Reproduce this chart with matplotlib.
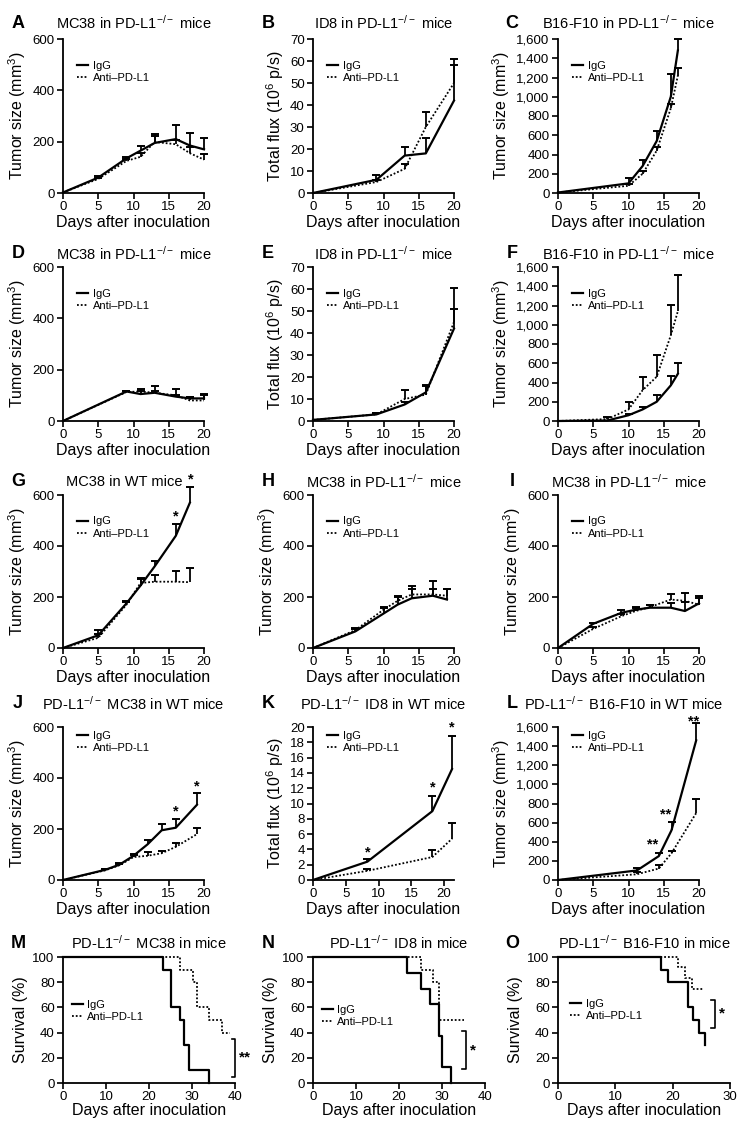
"""
plot.py
tumor growth / survival panels A-O (IgG vs Anti-PD-L1)
"""

import numpy as np
import matplotlib
matplotlib.use('Agg')
import matplotlib.pyplot as plt
from matplotlib.lines import Line2D

plt.rcParams['font.family'] = ['Liberation Sans', 'DejaVu Sans']
plt.rcParams['mathtext.default'] = 'regular'

NAN = np.nan

## ---- data ----
# A  MC38 in PD-L1-/- mice
A_DAYS      = [0, 5, 9, 11, 13, 16, 18, 20]
A_IGG       = [2, 60, 135, 165, 195, 210, 185, 170]
A_IGG_TOP   = [NAN, 68, 140, 185, 230, 266, 234, 214]
A_ANTI      = [2, 55, 125, 141, 199, 190, 155, 130]
A_ANTI_TOP  = [NAN, 60, 132, 156, 221, 205, 180, 153]
# B  ID8 in PD-L1-/- mice
B_DAYS      = [0, 9, 13, 16, 20]
B_IGG       = [0, 6, 17, 18, 42]
B_IGG_TOP   = [NAN, 8, 21, 25, 58]
B_ANTI      = [0, 5, 11, 30, 50]
B_ANTI_TOP  = [NAN, 6, 13, 37, 61]
# C  B16-F10 in PD-L1-/- mice
C_DAYS      = [0, 10, 12, 14, 16, 17]
C_IGG       = [5, 100, 280, 540, 1000, 1480]
C_IGG_TOP   = [NAN, 160, 348, 643, 1240, 1600]
C_ANTI      = [5, 75, 200, 440, 880, 1220]
C_ANTI_TOP  = [NAN, 95, 226, 473, 922, 1297]
# D  MC38 in PD-L1-/- mice
D_DAYS      = [0, 9, 11, 13, 16, 18, 20]
D_IGG       = [0, 115, 105, 110, 95, 88, 88]
D_IGG_TOP   = [NAN, 118, 118, 115, 100, 95, 100]
D_ANTI      = [0, 113, 115, 110, 100, 80, 80]
D_ANTI_TOP  = [NAN, 118, 125, 135, 125, 95, 105]
# E  ID8 in PD-L1-/- mice
E_DAYS      = [0, 9, 13, 16, 20]
E_IGG       = [0.5, 3, 7.5, 13, 42]
E_IGG_TOP   = [NAN, 3.5, 8.5, 16, 51]
E_ANTI      = [0.5, 3, 10, 12, 45]
E_ANTI_TOP  = [NAN, 3.8, 14, 16.5, 60.5]
# F  B16-F10 in PD-L1-/- mice
F_DAYS      = [0, 7, 10, 12, 14, 16, 17]
F_IGG       = [0, 5, 60, 120, 200, 370, 490]
F_IGG_TOP   = [NAN, NAN, 75, 145, 265, 470, 600]
F_ANTI      = [0, 20, 120, 320, 460, 890, 1140]
F_ANTI_TOP  = [NAN, 45, 200, 460, 690, 1210, 1515]
# G  MC38 in WT mice
G_DAYS      = [0, 5, 9, 11, 13, 16, 18]
G_IGG       = [0, 50, 175, 245, 320, 440, 570]
G_IGG_TOP   = [NAN, 70, 185, 275, 343, 485, 632]
G_ANTI      = [0, 40, 170, 255, 260, 260, 258]
G_ANTI_TOP  = [NAN, 55, 182, 270, 288, 302, 315]
# H  MC38 in PD-L1-/- mice
H_DAYS      = [0, 6, 10, 12, 14, 17, 19]
H_IGG       = [0, 65, 135, 170, 195, 205, 190]
H_IGG_TOP   = [NAN, 75, 155, 200, 233, 263, 230]
H_ANTI      = [0, 70, 150, 185, 210, 210, 205]
H_ANTI_TOP  = [NAN, 78, 162, 205, 242, 230, 232]
# I  MC38 in PD-L1-/- mice
I_DAYS      = [0, 5, 9, 11, 13, 16, 18, 20]
I_IGG       = [0, 95, 138, 150, 158, 158, 145, 175]
I_IGG_TOP   = [NAN, 100, 148, 155, 168, 175, 180, 195]
I_ANTI      = [0, 75, 125, 145, 160, 190, 185, 170]
I_ANTI_TOP  = [NAN, 82, 135, 160, 168, 212, 215, 205]
# J  PD-L1-/- MC38 in WT mice
J_DAYS      = [0, 6, 8, 10, 12, 14, 16, 19]
J_IGG       = [0, 40, 60, 95, 140, 195, 205, 295]
J_IGG_TOP   = [NAN, 45, 65, 103, 155, 220, 241, 340]
J_ANTI      = [0, 38, 58, 90, 95, 105, 130, 180]
J_ANTI_TOP  = [NAN, 42, 63, 100, 110, 115, 145, 205]
# K  PD-L1-/- ID8 in WT mice
K_DAYS      = [0, 8.3, 18.2, 21.2]
K_IGG       = [0, 2.4, 9.0, 14.5]
K_IGG_TOP   = [NAN, 2.7, 11.0, 18.8]
K_ANTI      = [0, 1.2, 3.0, 5.4]
K_ANTI_TOP  = [NAN, 1.4, 3.9, 7.5]
# L  PD-L1-/- B16-F10 in WT mice
L_DAYS      = [0, 11.2, 14.3, 16.1, 19.6]
L_IGG       = [0, 100, 250, 520, 1460]
L_IGG_TOP   = [NAN, 122, 285, 602, 1640]
L_ANTI      = [0, 60, 120, 280, 700]
L_ANTI_TOP  = [NAN, 80, 153, 303, 845]

# significance marks (x, y, text), drawn centred on (x, y)
G_STARS = [(16, 515, '*'), (18.2, 660, '*')]
J_STARS = [(16, 268, '*'), (19, 368, '*')]
K_STARS = [(8.3, 3.6, '*'), (18.2, 12.1, '*'), (21.2, 20.0, '*')]
L_STARS = [(13.4, 370, '**'), (15.2, 690, '**'), (19.2, 1660, '**')]

# survival (step times, % surviving)
M_IGG_T     = [0, 23.3, 25.2, 27.2, 28.2, 29.3, 34.0]
M_IGG_S     = [100, 90, 60, 50, 30, 10, 0]
M_ANTI_T    = [0, 27.2, 30.3, 31.2, 33.9, 36.9, 38.8]
M_ANTI_S    = [100, 90, 80, 60, 50, 40, 40]
N_IGG_T     = [0, 21.9, 25.0, 27.2, 29.3, 30.1, 32.2]
N_IGG_S     = [100, 87.5, 75, 62.5, 37.5, 12.5, 0]
N_ANTI_T    = [0, 25.2, 28.0, 29.3, 35.0]
N_ANTI_S    = [100, 90, 80, 50, 50]
O_IGG_T     = [0, 18.0, 19.2, 22.6, 23.6, 24.6, 25.6]
O_IGG_S     = [100, 90, 80, 60, 50, 40, 30]
O_ANTI_T    = [0, 20.9, 22.1, 23.3, 25.5]
O_ANTI_S    = [100, 92, 83, 75, 75]

## ---- layout in pixels ----
W, H = 738, 1121
COL_LEFT   = [63, 313, 558]
COL_LETTER = [18, 268, 512]
ROW_TOP    = [39, 267, 495, 727, 957]
ROW_H      = [154, 154, 153, 153, 126]
ROW_TITLE  = [23, 254, 482, 704, 943]
AX_W       = 141
AX_W_SURV  = 172

DOT = (0, (1, 1.1))


def px_box(left, top, w, h):
    return [left / W, 1 - (top + h) / H, w / W, h / H]


def style_axes(ax):
    for s in ['top', 'right']:
        ax.spines[s].set_visible(False)
    for s in ['left', 'bottom']:
        ax.spines[s].set_linewidth(1.3)
    ax.tick_params(direction='out', length=4, width=1.2, labelsize=9.5, pad=2)


def add_title(row, col, letter, title, ax_w=AX_W, shift=0):
    y = 1 - ROW_TITLE[row] / H
    fig.text(COL_LETTER[col] / W, y, letter, fontsize=13, fontweight='bold',
             ha='center', va='center')
    fig.text((COL_LEFT[col] + ax_w / 2 + shift) / W, y, title, fontsize=10.5,
             ha='center', va='center')


def add_legend(ax, anchor):
    handles = [Line2D([], [], color='black', lw=1.6),
               Line2D([], [], color='black', lw=1.3, linestyle=DOT)]
    ax.legend(handles, ['IgG', 'Anti\u2013PD-L1'], loc='upper left',
              bbox_to_anchor=anchor, frameon=False, fontsize=8,
              handlelength=1.0, handletextpad=0.4, labelspacing=0.2,
              borderpad=0, borderaxespad=0)


def growth_panel(row, col, letter, title, days, igg, igg_top, anti, anti_top,
                 ymax, ystep, ylabel, xmax=20, comma=False, leg_y=0.86,
                 stars=(), title_shift=0):
    ax = fig.add_axes(px_box(COL_LEFT[col], ROW_TOP[row], AX_W, ROW_H[row]))
    days = np.array(days, dtype=float)
    for mean, top, ls, lw in [(igg, igg_top, '-', 1.6), (anti, anti_top, DOT, 1.3)]:
        mean = np.array(mean, dtype=float)
        top = np.array(top, dtype=float)
        ax.plot(days, mean, color='black', lw=lw, linestyle=ls, clip_on=False)
        m = ~np.isnan(top)
        ax.vlines(days[m], mean[m], top[m], color='black', lw=1.3, clip_on=False)
        ax.plot(days[m], top[m], linestyle='none', marker='_', ms=6, mew=1.4,
                color='black', clip_on=False)
    for x, y, s in stars:
        ax.text(x, y, s, ha='center', va='center', fontsize=10.5,
                fontweight='bold')
    ax.set_xlim(0, xmax)
    ax.set_ylim(0, ymax)
    ax.set_xticks([0, 5, 10, 15, 20])
    yt = np.arange(0, ymax + ystep / 2, ystep)
    ax.set_yticks(yt)
    if comma:
        ax.set_yticklabels(['{:,}'.format(int(v)) for v in yt])
    else:
        ax.set_yticklabels(['{:g}'.format(v) for v in yt])
    ax.set_xlabel('Days after inoculation', fontsize=11.5, labelpad=1)
    ax.set_ylabel(ylabel, fontsize=11.5, labelpad=3)
    style_axes(ax)
    add_legend(ax, (0.1, leg_y))
    add_title(row, col, letter, title, shift=title_shift)
    return ax


def survival_panel(col, letter, title, igg_t, igg_s, anti_t, anti_s, xmax,
                   bracket_x, bracket_lo, bracket_hi, mark, leg_anchor):
    row = 4
    ax = fig.add_axes(px_box(COL_LEFT[col], ROW_TOP[row], AX_W_SURV, ROW_H[row]))
    ax.step(anti_t, anti_s, where='post', color='black', lw=1.3, linestyle=DOT,
            clip_on=False)
    ax.step(igg_t, igg_s, where='post', color='black', lw=1.6, clip_on=False)
    tick = xmax * 0.02
    ax.plot([bracket_x - tick, bracket_x, bracket_x, bracket_x - tick],
            [bracket_hi, bracket_hi, bracket_lo, bracket_lo], color='black',
            lw=1.2, clip_on=False)
    ax.text(bracket_x + xmax * 0.025, (bracket_lo + bracket_hi) / 2, mark,
            ha='left', va='center', fontsize=11, fontweight='bold')
    ax.set_xlim(0, xmax)
    ax.set_ylim(0, 100)
    ax.set_xticks(np.arange(0, xmax + 1, 10))
    ax.set_yticks([0, 20, 40, 60, 80, 100])
    ax.set_xlabel('Days after inoculation', fontsize=11.5, labelpad=0)
    ax.set_ylabel('Survival (%)', fontsize=11.5, labelpad=3)
    style_axes(ax)
    add_legend(ax, leg_anchor)
    add_title(row, col, letter, title, AX_W_SURV)
    return ax


fig = plt.figure(figsize=(W / 100, H / 100), dpi=100)

KO = 'PD-L1$^{-/-}$'
TUMOR = 'Tumor size (mm$^3$)'
FLUX = 'Total flux (10$^6$ p/s)'

growth_panel(0, 0, 'A', 'MC38 in ' + KO + ' mice', A_DAYS, A_IGG, A_IGG_TOP,
             A_ANTI, A_ANTI_TOP, 600, 200, TUMOR)
growth_panel(0, 1, 'B', 'ID8 in ' + KO + ' mice', B_DAYS, B_IGG, B_IGG_TOP,
             B_ANTI, B_ANTI_TOP, 70, 10, FLUX)
growth_panel(0, 2, 'C', 'B16-F10 in ' + KO + ' mice', C_DAYS, C_IGG, C_IGG_TOP,
             C_ANTI, C_ANTI_TOP, 1600, 200, TUMOR, comma=True)
growth_panel(1, 0, 'D', 'MC38 in ' + KO + ' mice', D_DAYS, D_IGG, D_IGG_TOP,
             D_ANTI, D_ANTI_TOP, 600, 200, TUMOR)
growth_panel(1, 1, 'E', 'ID8 in ' + KO + ' mice', E_DAYS, E_IGG, E_IGG_TOP,
             E_ANTI, E_ANTI_TOP, 70, 10, FLUX)
growth_panel(1, 2, 'F', 'B16-F10 in ' + KO + ' mice', F_DAYS, F_IGG, F_IGG_TOP,
             F_ANTI, F_ANTI_TOP, 1600, 200, TUMOR, comma=True)
growth_panel(2, 0, 'G', 'MC38 in WT mice', G_DAYS, G_IGG, G_IGG_TOP,
             G_ANTI, G_ANTI_TOP, 600, 200, TUMOR, stars=G_STARS,
             title_shift=-9)
growth_panel(2, 1, 'H', 'MC38 in ' + KO + ' mice', H_DAYS, H_IGG, H_IGG_TOP,
             H_ANTI, H_ANTI_TOP, 600, 200, TUMOR)
growth_panel(2, 2, 'I', 'MC38 in ' + KO + ' mice', I_DAYS, I_IGG, I_IGG_TOP,
             I_ANTI, I_ANTI_TOP, 600, 200, TUMOR)
growth_panel(3, 0, 'J', KO + ' MC38 in WT mice', J_DAYS, J_IGG, J_IGG_TOP,
             J_ANTI, J_ANTI_TOP, 600, 200, TUMOR, leg_y=0.975, stars=J_STARS)
growth_panel(3, 1, 'K', KO + ' ID8 in WT mice', K_DAYS, K_IGG, K_IGG_TOP,
             K_ANTI, K_ANTI_TOP, 20, 2, FLUX, xmax=21.5, leg_y=0.975,
             stars=K_STARS)
growth_panel(3, 2, 'L', KO + ' B16-F10 in WT mice', L_DAYS, L_IGG, L_IGG_TOP,
             L_ANTI, L_ANTI_TOP, 1600, 200, TUMOR, comma=True, leg_y=0.975,
             stars=L_STARS, title_shift=-5)

survival_panel(0, 'M', KO + ' MC38 in mice', M_IGG_T, M_IGG_S, M_ANTI_T,
               M_ANTI_S, 40, 40, 5, 35, '**', (0.05, 0.66))
survival_panel(1, 'N', KO + ' ID8 in mice', N_IGG_T, N_IGG_S, N_ANTI_T,
               N_ANTI_S, 40, 35.5, 11, 41, '*', (0.05, 0.62))
survival_panel(2, 'O', KO + ' B16-F10 in mice', O_IGG_T, O_IGG_S, O_ANTI_T,
               O_ANTI_S, 30, 27.3, 44, 66, '*', (0.07, 0.67))

fig.savefig('out.png', dpi=100)
